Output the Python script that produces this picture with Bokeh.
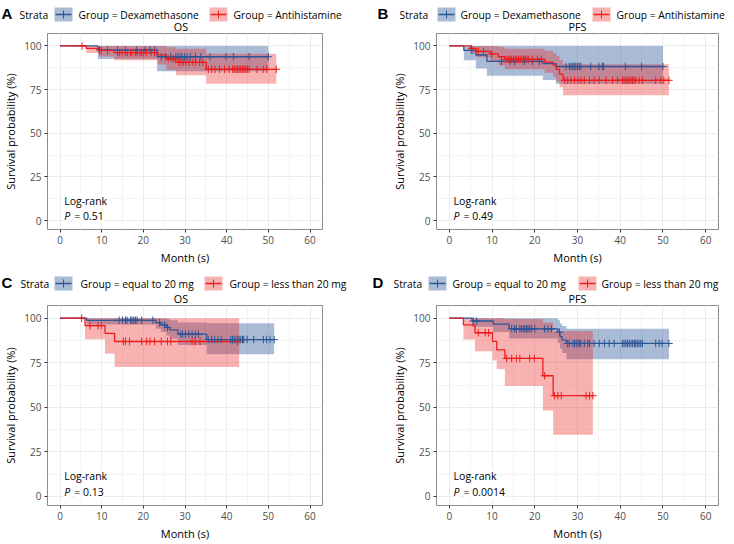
import numpy as np
from bokeh.plotting import figure
from bokeh.models import Range1d, FixedTicker, Label
from bokeh.layouts import column, row
from bokeh.embed import file_html
from bokeh.resources import INLINE

# ---------------- DATA ----------------
# Panel A: OS, Dexamethasone vs Antihistamine
A_dex_time = [9.1, 23.3]
A_dex_surv = [97.6, 93.8]
A_dex_lower = [92.5, 85.5]
A_dex_upper = [100.0, 100.0]
A_dex_end = 50.0
A_dex_censor = [9.5, 11.4, 13.8, 15.7, 18.4, 20.4, 21.6, 22.7, 24.3, 25.4, 26.6, 27.8,
                28.3, 28.8, 29.3, 29.9, 30.5, 31.3, 32.5, 33.8, 36.0, 39.8, 41.6, 45.4, 50.0]
A_ah_time = [6.3, 9.2, 13.0, 23.5, 25.5, 27.8, 35.1]
A_ah_surv = [98.6, 97.4, 96.2, 94.9, 92.6, 90.6, 86.6]
A_ah_lower = [95.9, 94.0, 91.8, 89.4, 86.2, 83.2, 78.3]
A_ah_upper = [100.0, 100.0, 100.0, 100.0, 99.3, 98.4, 95.5]
A_ah_end = 51.9
A_ah_censor = [5.3, 9.9, 11.4, 13.8, 14.3, 14.9, 15.7, 16.2, 16.9, 17.3, 18.1, 18.5, 19.2,
               19.6, 20.1, 20.8, 21.9, 22.7, 26.0, 26.8, 27.3, 28.5, 29.0, 29.6, 30.2, 31.0,
               31.9, 32.6, 33.5, 34.3, 35.6, 36.4, 37.2, 38.3, 39.5, 40.6, 41.4, 41.8, 42.2,
               42.6, 43.0, 43.4, 43.8, 44.2, 44.6, 45.0, 45.4, 47.3, 48.8, 49.6, 51.9]

# Panel B: PFS, Dexamethasone vs Antihistamine
B_dex_time = [3.4, 6.2, 8.8, 21.9, 25.0]
B_dex_surv = [97.4, 94.8, 91.2, 89.8, 88.2]
B_dex_lower = [91.8, 87.0, 82.9, 80.5, 78.3]
B_dex_upper = [100.0, 100.0, 100.0, 100.0, 100.0]
B_dex_end = 50.0
B_dex_censor = [5.3, 12.2, 14.2, 15.3, 17.6, 19.5, 21.1, 27.3, 28.1, 28.5, 28.9, 29.2, 29.6,
                30.0, 30.4, 30.8, 33.1, 35.0, 35.8, 36.1, 41.2, 45.0, 50.0]
B_ah_time = [4.9, 6.4, 9.5, 11.5, 13.0, 22.3, 24.3, 25.0, 25.8, 26.6]
B_ah_surv = [98.5, 96.9, 95.4, 93.8, 92.3, 90.7, 89.0, 86.6, 83.9, 80.3]
B_ah_lower = [95.6, 93.3, 91.0, 88.8, 86.7, 84.6, 82.4, 79.6, 76.4, 71.8]
B_ah_upper = [100.0, 100.0, 100.0, 99.4, 98.3, 97.2, 96.0, 94.2, 92.0, 89.5]
B_ah_end = 51.4
B_ah_censor = [5.2, 6.8, 8.0, 9.9, 13.3, 13.8, 14.2, 14.6, 15.0, 15.4, 15.8, 16.2, 16.6, 17.0,
               17.4, 17.8, 18.2, 18.6, 19.4, 20.6, 21.6, 27.0, 27.7, 28.5, 29.3, 30.1, 30.8,
               31.6, 32.8, 33.9, 35.1, 36.7, 38.2, 39.4, 40.5, 40.9, 41.3, 41.7, 42.1, 42.5,
               42.9, 43.2, 43.6, 44.4, 45.2, 48.3, 49.5, 50.2, 51.4]

# Panel C: OS, equal to 20 mg vs less than 20 mg
C_eq_time = [6.4, 23.0, 24.2, 25.5, 26.3, 28.3, 35.2]
C_eq_surv = [98.8, 97.5, 96.2, 94.8, 93.4, 91.0, 88.0]
C_eq_lower = [96.4, 94.0, 92.2, 90.3, 88.5, 85.0, 79.8]
C_eq_upper = [100.0, 100.0, 100.0, 99.6, 98.8, 97.6, 97.2]
C_eq_end = 51.4
C_eq_censor = [14.2, 15.0, 15.7, 16.1, 16.9, 17.3, 17.7, 18.1, 18.5, 19.6, 22.3, 23.9, 25.1,
               25.8, 29.0, 29.4, 30.1, 30.9, 31.7, 32.5, 33.2, 35.6, 36.4, 37.1, 37.9, 38.7,
               41.0, 41.4, 41.8, 42.2, 42.6, 43.0, 43.4, 43.8, 44.1, 44.9, 46.5, 48.8, 49.6,
               50.4, 51.4]
C_lt_time = [6.0, 10.8, 13.1]
C_lt_surv = [95.8, 91.5, 86.9]
C_lt_lower = [88.2, 80.0, 72.6]
C_lt_upper = [100.0, 100.0, 100.0]
C_lt_end = 43.0
C_lt_censor = [5.2, 7.2, 9.1, 9.9, 15.2, 15.7, 16.7, 19.6, 20.8, 21.6, 22.7, 24.3, 25.8, 26.6,
               31.7, 32.4, 33.6, 42.6]

# Panel D: PFS, equal to 20 mg vs less than 20 mg
D_eq_time = [5.3, 10.3, 14.0, 25.4, 25.9, 26.4, 27.4]
D_eq_surv = [98.4, 96.7, 94.0, 92.2, 89.6, 87.7, 85.8]
D_eq_lower = [95.2, 92.2, 88.6, 86.2, 83.0, 80.5, 77.0]
D_eq_upper = [100.0, 100.0, 100.0, 98.8, 97.0, 95.6, 94.0]
D_eq_end = 51.4
D_eq_censor = [5.6, 6.4, 14.6, 15.3, 15.7, 16.5, 16.9, 17.3, 17.7, 18.1, 18.4, 18.8, 19.2, 20.0,
               22.3, 23.1, 23.9, 25.8, 27.7, 28.1, 28.9, 29.3, 29.7, 30.1, 30.5, 30.8, 31.6,
               32.4, 32.8, 33.9, 35.1, 36.3, 37.4, 38.6, 40.5, 40.9, 41.3, 41.7, 42.1, 42.5,
               42.9, 43.3, 43.6, 44.0, 44.4, 44.8, 45.2, 48.3, 49.1, 49.8, 51.4]
D_lt_time = [3.3, 6.0, 10.1, 11.1, 13.0, 21.9, 24.3]
D_lt_surv = [96.2, 91.8, 87.0, 82.2, 77.4, 67.7, 56.5]
D_lt_lower = [88.0, 81.5, 76.3, 71.5, 62.0, 48.2, 34.6]
D_lt_upper = [100.0, 100.0, 100.0, 100.0, 99.5, 97.5, 92.8]
D_lt_end = 33.6
D_lt_censor = [6.8, 8.4, 9.2, 13.4, 14.6, 15.7, 16.5, 18.8, 19.9, 22.3, 24.6, 25.4, 26.2,
               32.0, 32.8, 33.6]

panel_letters = ["A", "B", "C", "D"]
panel_titles = ["OS", "PFS", "OS", "PFS"]
legend_labels_AB = ["Group = Dexamethasone", "Group = Antihistamine"]
legend_labels_CD = ["Group = equal to 20 mg", "Group = less than 20 mg"]
p_values = ["0.51", "0.49", "0.13", "0.0014"]
x_ticks = [0, 10, 20, 30, 40, 50, 60]
x_minor = [5, 15, 25, 35, 45, 55]
y_ticks = [0, 25, 50, 75, 100]
y_minor = [12.5, 37.5, 62.5, 87.5]

# ---------------- STYLE / LAYOUT ----------------
FONT = "Open Sans"
BLUE = "#2B5597"
RED = "#EE1C1C"
BLUE_ALPHA = 0.4
RED_ALPHA = 0.34
TOTAL_W = 726
HEAD_H = 33
X0, X1 = -3.0, 63.0
Y0, Y1 = -5.1, 107.1

WL, WR = 372, 354        # widths of left / right panel figures
LL, RL = 39, 50          # left column borders
LR, RR = 64, 8           # right column borders


def step_xy(times, vals, end):
    return [0.0] + list(times) + [end], [100.0] + list(vals) + [vals[-1]]


def band_xy(times, lower, upper, end):
    edges = [0.0] + list(times) + [end]
    lo = [100.0] + list(lower)
    up = [100.0] + list(upper)
    bx, bl, bu = [], [], []
    for i in range(len(lo)):
        bx += [edges[i], edges[i + 1]]
        bl += [lo[i], lo[i]]
        bu += [up[i], up[i]]
    return bx, bl, bu


def surv_at(times, vals, t):
    idx = np.searchsorted(np.array(times), np.array(t), side="right")
    arr = np.array([100.0] + list(vals))
    return list(arr[idx])


def header_strip(specs):
    """One full-width strip (pixel coordinates, y downward) holding two panel headers."""
    h = figure(width=TOTAL_W, height=HEAD_H, x_range=Range1d(0, TOTAL_W),
               y_range=Range1d(HEAD_H, 0), toolbar_location=None, output_backend="svg",
               x_axis_type=None, y_axis_type=None, min_border=0)
    h.outline_line_color = None
    h.background_fill_color = "white"
    h.border_fill_color = "white"
    for s in specs:
        ly = s["leg_y"]
        h.add_layout(Label(x=s["letter_x"], y=ly - 1, text=s["letter"], text_font="Liberation Sans",
                           text_font_style="bold", text_font_size="15px", text_baseline="middle",
                           text_color="black"))
        h.add_layout(Label(x=s["strata_x"], y=ly, text="Strata", text_font=FONT,
                           text_font_size="10.3px", text_baseline="middle", text_color="black"))
        for kx, tx, lab, col, al in zip(s["key_x"], s["text_x"], s["labels"], [BLUE, RED],
                                        [BLUE_ALPHA, RED_ALPHA]):
            h.quad(left=[kx], right=[kx + 18], top=[ly - 7], bottom=[ly + 7],
                   fill_color=col, fill_alpha=al, line_color=None)
            h.segment(x0=[kx + 1], x1=[kx + 17], y0=[ly], y1=[ly], line_color=col, line_width=1.3)
            h.scatter(x=[kx + 9], y=[ly], marker="cross", size=8, line_color=col, line_width=1)
            h.add_layout(Label(x=tx, y=ly, text=lab, text_font=FONT, text_font_size="10.3px",
                               text_baseline="middle", text_color="black"))
        h.add_layout(Label(x=s["title_x"], y=s["title_y"], text=s["title"], text_font=FONT,
                           text_font_size="10.8px", text_baseline="middle", text_align="center",
                           text_color="black"))
    return h


def km_panel(width, height, left, right, top, bottom, curves, pval):
    p = figure(width=width, height=height, x_range=Range1d(X0, X1), y_range=Range1d(Y0, Y1),
               toolbar_location=None, output_backend="svg",
               min_border_left=left, min_border_right=right, min_border_top=top,
               min_border_bottom=bottom)
    p.background_fill_color = "white"
    p.border_fill_color = "white"
    p.outline_line_color = "#8C8C8C"
    p.outline_line_width = 1
    p.xaxis.ticker = FixedTicker(ticks=x_ticks, minor_ticks=x_minor)
    p.yaxis.ticker = FixedTicker(ticks=y_ticks, minor_ticks=y_minor)
    p.xgrid.ticker = FixedTicker(ticks=x_ticks, minor_ticks=x_minor)
    p.ygrid.ticker = FixedTicker(ticks=y_ticks, minor_ticks=y_minor)
    p.grid.grid_line_color = "#EBEBEB"
    p.grid.grid_line_width = 1
    p.grid.minor_grid_line_color = "#F4F4F4"
    p.grid.minor_grid_line_width = 1
    for ax in (p.xaxis, p.yaxis):
        ax.axis_line_color = None
        ax.major_tick_out = 3
        ax.major_tick_in = 0
        ax.major_tick_line_color = "#333333"
        ax.minor_tick_line_color = None
        ax.major_label_text_font = FONT
        ax.major_label_text_font_size = "10px"
        ax.major_label_text_color = "#4D4D4D"
        ax.major_label_standoff = 2
        ax.axis_label_text_font = FONT
        ax.axis_label_text_font_size = "11px"
        ax.axis_label_text_font_style = "normal"
        ax.axis_label_text_color = "black"
        ax.axis_label_standoff = 3
    p.xaxis.axis_label = "Month (s)"
    p.yaxis.axis_label = "Survival probability (%)"

    for c in curves:
        bx, bl, bu = band_xy(c["time"], c["lower"], c["upper"], c["end"])
        p.varea(x=bx, y1=bl, y2=bu, fill_color=c["color"], fill_alpha=c["alpha"])
    for c in curves:
        sx, sy = step_xy(c["time"], c["surv"], c["end"])
        p.step(x=sx, y=sy, mode="after", line_color=c["color"], line_width=1.3)
    for c in curves:
        cy = surv_at(c["time"], c["surv"], c["censor"])
        p.scatter(x=c["censor"], y=cy, marker="cross", size=7.5, line_color=c["color"],
                  line_width=1)

    common = dict(text_font=FONT, text_font_size="10.5px", text_baseline="middle",
                  text_color="black", background_fill_color="white")
    p.add_layout(Label(x=1.0, y=11.2, text="Log-rank", **common))
    p.add_layout(Label(x=1.0, y=2.5, text="P", text_font_style="italic", **common))
    p.add_layout(Label(x=1.0, y=2.5, x_offset=10, text="= " + pval, **common))
    return p


def curve(time, surv, lower, upper, end, censor, color, alpha):
    return dict(time=time, surv=surv, lower=lower, upper=upper, end=end, censor=censor,
                color=color, alpha=alpha)


curves_A = [curve(A_dex_time, A_dex_surv, A_dex_lower, A_dex_upper, A_dex_end, A_dex_censor, BLUE, BLUE_ALPHA),
            curve(A_ah_time, A_ah_surv, A_ah_lower, A_ah_upper, A_ah_end, A_ah_censor, RED, RED_ALPHA)]
curves_B = [curve(B_dex_time, B_dex_surv, B_dex_lower, B_dex_upper, B_dex_end, B_dex_censor, BLUE, BLUE_ALPHA),
            curve(B_ah_time, B_ah_surv, B_ah_lower, B_ah_upper, B_ah_end, B_ah_censor, RED, RED_ALPHA)]
curves_C = [curve(C_eq_time, C_eq_surv, C_eq_lower, C_eq_upper, C_eq_end, C_eq_censor, BLUE, BLUE_ALPHA),
            curve(C_lt_time, C_lt_surv, C_lt_lower, C_lt_upper, C_lt_end, C_lt_censor, RED, RED_ALPHA)]
curves_D = [curve(D_eq_time, D_eq_surv, D_eq_lower, D_eq_upper, D_eq_end, D_eq_censor, BLUE, BLUE_ALPHA),
            curve(D_lt_time, D_lt_surv, D_lt_lower, D_lt_upper, D_lt_end, D_lt_censor, RED, RED_ALPHA)]

# frame centres (for the OS / PFS titles)
cL = LL + (WL - LL - RL) / 2
cR = WL + LR + (WR - LR - RR) / 2

top_specs = [
    dict(letter=panel_letters[0], letter_x=1, strata_x=19, key_x=[54, 209], text_x=[78, 233],
         labels=legend_labels_AB, title=panel_titles[0], title_x=cL, leg_y=14, title_y=25.5),
    dict(letter=panel_letters[1], letter_x=377, strata_x=399, key_x=[437, 592], text_x=[460, 616],
         labels=legend_labels_AB, title=panel_titles[1], title_x=cR, leg_y=14, title_y=25.5),
]
bottom_specs = [
    dict(letter=panel_letters[2], letter_x=1, strata_x=20, key_x=[54, 204], text_x=[80, 229],
         labels=legend_labels_CD, title=panel_titles[2], title_x=cL, leg_y=11, title_y=25.5),
    dict(letter=panel_letters[3], letter_x=372, strata_x=393, key_x=[428, 578], text_x=[452, 601],
         labels=legend_labels_CD, title=panel_titles[3], title_x=cR, leg_y=11, title_y=25.5),
]

hTop = header_strip(top_specs)
hBot = header_strip(bottom_specs)

pA = km_panel(WL, 239, LL, RL, 0, 43, curves_A, p_values[0])
pB = km_panel(WR, 239, LR, RR, 0, 43, curves_B, p_values[1])
pC = km_panel(WL, 238, LL, RL, 0, 35, curves_C, p_values[2])
pD = km_panel(WR, 238, LR, RR, 0, 35, curves_D, p_values[3])

layout = column(hTop, row(pA, pB), hBot, row(pC, pD))

open("out.html", "w").write(file_html(layout, INLINE))
